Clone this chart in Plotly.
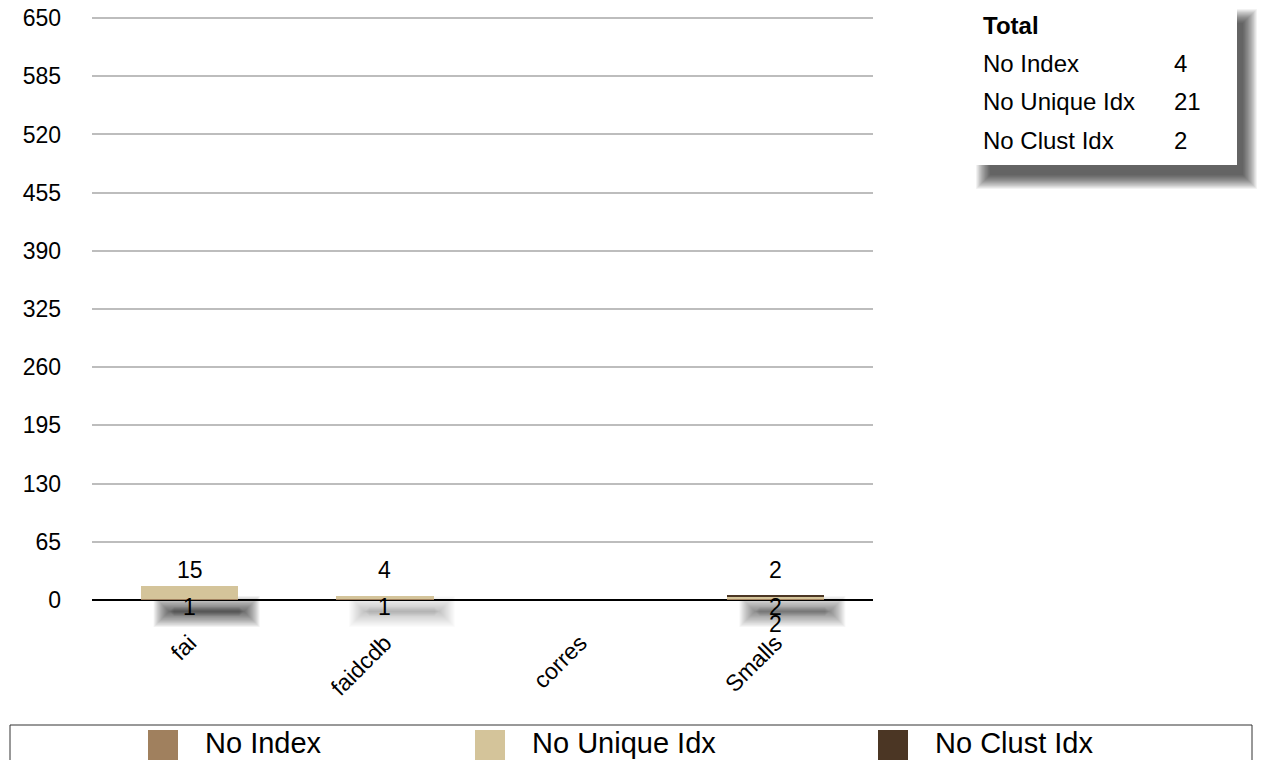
import plotly.graph_objects as go

# ---- data ----
categories = ["fai", "faidcdb", "corres", "Smalls"]
series_names = ["No Index", "No Unique Idx", "No Clust Idx"]
no_index = [1, 1, 0, 2]
no_unique_idx = [15, 4, 0, 2]
no_clust_idx = [0, 0, 0, 2]
totals = [4, 21, 2]
y_ticks = [0, 65, 130, 195, 260, 325, 390, 455, 520, 585, 650]

series_values = [no_index, no_unique_idx, no_clust_idx]
colors = ["#A0805E", "#D4C49A", "#4B3624"]
shadow_alpha = [0.05, 0.017, 0.0, 0.036]

FONT = "Liberation Sans, Arial, Helvetica, sans-serif"
W, H = 1262, 760
L, R, T, B = 92, 389, 17, 160
PW, PH = W - L - R, H - T - B


def px(x):
    return (x - L) / PW


def py(y):
    return (H - B - y) / PH


fig = go.Figure()
for name, vals, col in zip(series_names, series_values, colors):
    fig.add_trace(go.Bar(x=categories, y=vals, name=name, marker_color=col,
                         marker_line_width=0, showlegend=False))

shapes = []
annotations = []


def soft_rect(x0, y0, x1, y1, color, alpha, spread, steps=20):
    # stacked translucent rectangles give a soft blurred edge
    for i in range(steps):
        d = spread / 2 - spread * i / (steps - 1)
        shapes.append(dict(type="rect", xref="paper", yref="paper",
                           x0=px(x0 - d), x1=px(x1 + d), y0=py(y1 + d), y1=py(y0 - d),
                           fillcolor=color, opacity=alpha, line_width=0, layer="below"))


# soft shadows beneath each bar
band = PW / len(categories)
for i, cat in enumerate(categories):
    if sum(v[i] for v in series_values) <= 0:
        continue
    cx = L + band * (i + 0.5)
    soft_rect(cx - 26, 606, cx + 60, 617, "#000000", shadow_alpha[i], 20)

# value labels: top segment above the axis, the rest underneath it
label_font = dict(family=FONT, size=23, color="#000")
for i, cat in enumerate(categories):
    nonzero = [vals[i] for vals in series_values if vals[i] > 0]
    if not nonzero:
        continue
    annotations.append(dict(x=cat, y=0, xref="x", yref="y", text=str(nonzero[-1]),
                            showarrow=False, yshift=30, yanchor="middle", font=label_font))
    for k, v in enumerate(nonzero[:-1]):
        annotations.append(dict(x=cat, y=0, xref="x", yref="y", text=str(v),
                                showarrow=False, yshift=-7 - 17 * k, yanchor="middle",
                                font=label_font))

# totals box with drop shadow
soft_rect(983, 16, 1250, 182, "#000000", 0.043, 14)
shapes.append(dict(type="rect", xref="paper", yref="paper", x0=px(963), x1=px(1237),
                   y0=py(165), y1=py(-5), fillcolor="white", line_width=0))
box_font = dict(family=FONT, size=24, color="#000")
annotations.append(dict(xref="paper", yref="paper", x=px(981), y=py(25), text="<b>Total</b>",
                        showarrow=False, xanchor="left", yanchor="middle", font=box_font))
for j, (name, tot) in enumerate(zip(series_names, totals)):
    yy = 63 + j * 38.5
    annotations.append(dict(xref="paper", yref="paper", x=px(981), y=py(yy), text=name,
                            showarrow=False, xanchor="left", yanchor="middle", font=box_font))
    annotations.append(dict(xref="paper", yref="paper", x=px(1172), y=py(yy), text=str(tot),
                            showarrow=False, xanchor="left", yanchor="middle", font=box_font))

# legend strip along the bottom
shapes.append(dict(type="rect", xref="paper", yref="paper", x0=px(10), x1=px(1252),
                   y0=py(765), y1=py(725), fillcolor="white",
                   line=dict(color="#333", width=1)))
legend_x = [148, 475, 878]
for name, col, lx in zip(series_names, colors, legend_x):
    shapes.append(dict(type="rect", xref="paper", yref="paper", x0=px(lx), x1=px(lx + 30),
                       y0=py(760), y1=py(730), fillcolor=col, line_width=0))
    annotations.append(dict(xref="paper", yref="paper", x=px(lx + 55), y=py(743), text=name,
                            showarrow=False, xanchor="left", yanchor="middle",
                            font=dict(family=FONT, size=29, color="#000")))

fig.update_layout(
    barmode="stack",
    bargap=0.5,
    width=W, height=H,
    margin=dict(l=L, r=R, t=T, b=B, autoexpand=False),
    paper_bgcolor="white",
    plot_bgcolor="white",
    font=dict(family=FONT, size=23, color="#000"),
    shapes=shapes,
    annotations=annotations,
    xaxis=dict(tickangle=-45, showgrid=False, showline=False, ticks="",
               ticklabelstandoff=24, tickfont=dict(size=23)),
    yaxis=dict(range=[0, 651.2], tickvals=y_ticks, showgrid=True, gridcolor="#BDBDBD",
               gridwidth=2, zeroline=True, zerolinecolor="#000", zerolinewidth=2,
               ticks="", ticklabelstandoff=30, tickfont=dict(size=23)),
)

fig.write_html("out.html")
